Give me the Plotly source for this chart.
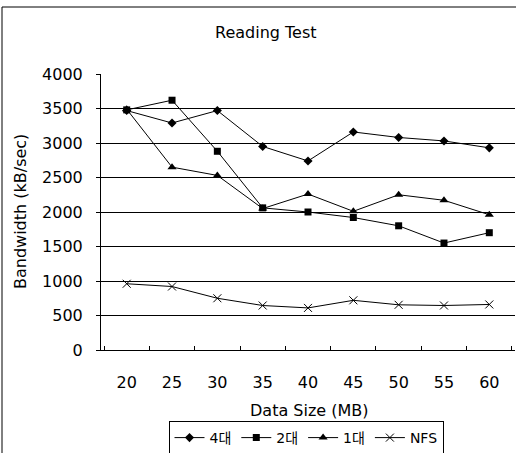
import plotly.graph_objects as go

sizes = ["20", "25", "30", "35", "40", "45", "50", "55", "60"]
s4 = [3470, 3290, 3470, 2950, 2740, 3160, 3080, 3030, 2930]
s2 = [3480, 3620, 2880, 2060, 2000, 1920, 1800, 1550, 1700]
s1 = [3490, 2650, 2530, 2050, 2260, 2010, 2250, 2170, 1960]
nfs = [960, 920, 750, 645, 610, 720, 655, 645, 660]
names = ["4대", "2대", "1대", "NFS"]

FONT = "DejaVu Sans, Noto Sans CJK KR, sans-serif"
W, H = 516, 453
L, R, T, B = 101, 1, 74, 103
pw, ph = W - L - R, H - T - B

def px(x):
    return (x - L) / pw

def py(y):
    return (H - B - y) / ph

fig = go.Figure()
specs = [
    (s4, names[0], dict(symbol="diamond", size=7)),
    (s2, names[1], dict(symbol="square", size=7)),
    (s1, names[2], dict(symbol="triangle-up", size=8)),
    (nfs, names[3], dict(symbol="x-thin-open", size=8, line=dict(width=1, color="black"))),
]
for vals, nm, mk in specs:
    fig.add_trace(go.Scatter(
        x=sizes, y=vals, name=nm, mode="lines+markers",
        line=dict(color="black", width=1),
        marker=dict(color="black", **mk),
    ))

fig.update_layout(
    width=W, height=H,
    margin=dict(l=L, r=R, t=T, b=B, autoexpand=False),
    paper_bgcolor="white", plot_bgcolor="white",
    font=dict(family=FONT, size=16, color="black"),
    showlegend=True,
    legend=dict(
        orientation="h", x=px(306), xanchor="center", y=py(438), yanchor="middle",
        bordercolor="black", borderwidth=1, font=dict(size=14),
        itemwidth=30, tracegroupgap=0,
    ),
)
fig.update_xaxes(
    type="category", showgrid=False, showline=True, linecolor="black", linewidth=1,
    ticks="inside", tickson="boundaries", ticklen=4, tickcolor="black",
    ticklabelstandoff=18, tickfont=dict(size=16), automargin=False,
)
fig.update_yaxes(
    range=[0, 4000], dtick=500, showgrid=True, gridcolor="black", gridwidth=1,
    showline=True, linecolor="black", linewidth=1, zeroline=False,
    ticks="outside", ticklen=4, tickcolor="black", ticklabelstandoff=10,
    tickfont=dict(size=16), automargin=False,
)

fig.add_shape(type="rect", xref="paper", yref="paper",
              x0=px(2), y0=py(470), x1=px(530), y1=py(7),
              line=dict(color="black", width=1), layer="below")

ann = dict(xref="paper", yref="paper", showarrow=False, xanchor="center",
           yanchor="middle", font=dict(size=16))
fig.add_annotation(text="Reading Test", x=px(266), y=py(32), **ann)
fig.add_annotation(text="Data Size (MB)", x=px(309), y=py(410), **ann)
fig.add_annotation(text="Bandwidth (kB/sec)", x=px(20), y=py(212), textangle=-90, **ann)

fig.write_html("out.html")
